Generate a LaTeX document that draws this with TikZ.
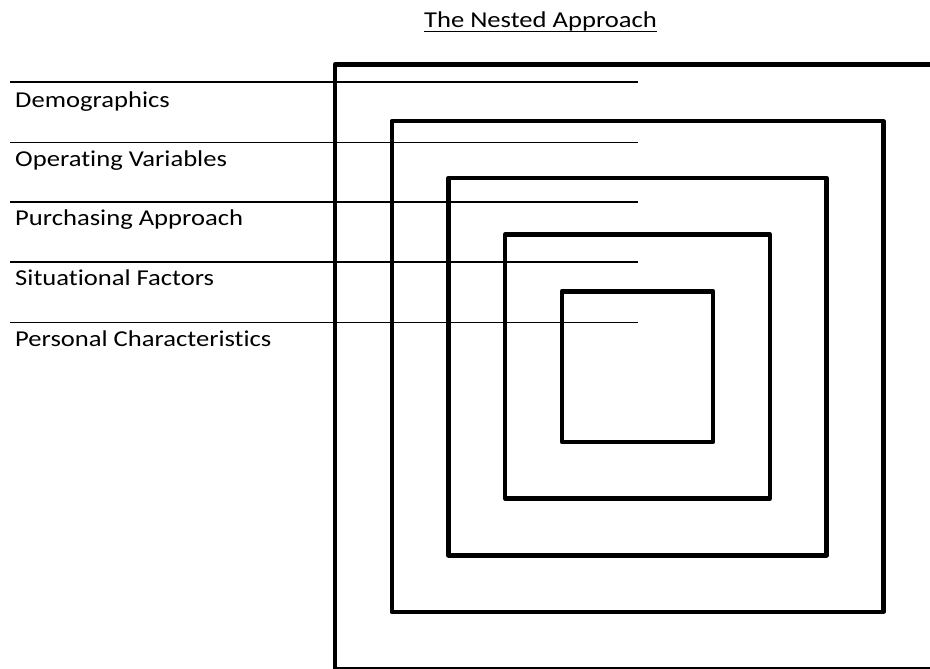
\documentclass[tikz,border=0pt]{standalone}
\usepackage{fontspec}
\setmainfont[Ligatures=NoCommon,FakeStretch=1.172]{Carlito}
\begin{document}
\begin{tikzpicture}[x=1pt,y=-1pt,
  frame/.style={line width=4.4pt,line join=round},
  rule/.style={line width=1.8pt},
  textfont/.style={inner sep=0pt,font=\fontsize{22.7}{27}\selectfont},
  label/.style={textfont,anchor=base west}]
\useasboundingbox (0,0) rectangle (930,669);
\fill[white] (0,0) rectangle (930,669);

% title
\node[textfont,anchor=base] (title) at (540.5,27.5) {The Nested Approach};
\draw[line width=1pt] (title.base west) ++(0,4.5) -- ([yshift=-4.5pt]title.base east);

% nested frames
\begin{scope}
\clip (0,0) rectangle (930,669);
\foreach \k in {0,...,4}{
  \draw[frame] (335+56.7*\k, 64.5+56.7*\k) rectangle (940-56.7*\k, 668.7-56.7*\k);
}
\end{scope}

% level rules and labels
\foreach \y/\b/\t [count=\i] in {82/107.3/Demographics,
                                 142.5/166/Operating Variables,
                                 201.8/225.7/Purchasing Approach,
                                 262/285.7/Situational Factors,
                                 322.5/346/Personal Characteristics}{
  \coordinate (s\i) at (10,\y);
  \coordinate (e\i) at (637.5,\y);
  \draw[rule] (s\i) -- (e\i);
  \node[label] (l\i) at (15,\b) {\t};
}
\end{tikzpicture}
\end{document}
